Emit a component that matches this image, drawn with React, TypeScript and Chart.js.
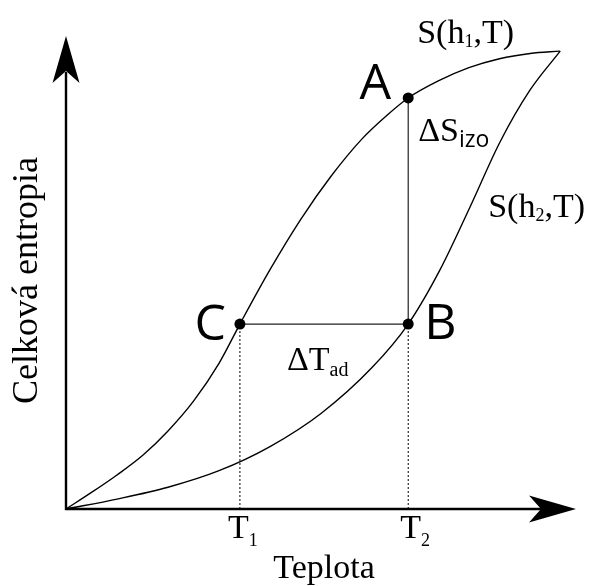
import { useEffect, useRef } from "react";
import { Chart, registerables } from "chart.js";

Chart.register(...registerables);

// Temperature / entropy in arbitrary units (0..10 on both axes)
const T_H1 = [0, 0.5, 1.0, 1.5, 2.0, 2.5, 3.0, 3.41, 4.0, 4.6, 5.2, 5.8, 6.3, 6.71, 7.3, 7.9, 8.5, 9.1, 9.69];
const S_H1 = [0, 0.35, 0.72, 1.13, 1.65, 2.28, 3.08, 3.91, 5.06, 6.12, 7.04, 7.82, 8.33, 8.69, 9.05, 9.33, 9.52, 9.63, 9.68];

const T_H2 = [0, 1, 2, 3, 4, 5, 6, 6.71, 7.33, 7.92, 8.51, 9.1, 9.69];
const S_H2 = [0, 0.21, 0.46, 0.81, 1.32, 2.02, 2.99, 3.91, 5.05, 6.38, 7.76, 8.86, 9.68];

// Cycle states
const T1 = 3.41;
const T2 = 6.71;
const S_A = 8.69;
const S_BC = 3.91;

const POINT_NAMES = ["A", "B", "C"];
const POINT_T = [T2, T2, T1];
const POINT_S = [S_A, S_BC, S_BC];

const X_MAX = 10;
const Y_MAX = 10;

const SERIF = '"Liberation Serif", "Times New Roman", serif';
const SANS = '"Open Sans", "DejaVu Sans", sans-serif';

const toXY = (xs: number[], ys: number[]) => xs.map((x, i) => ({ x, y: ys[i] }));

function drawSub(
  ctx: CanvasRenderingContext2D,
  x: number,
  y: number,
  main: string,
  sub: string,
  rest: string,
  mainFont: string,
  subFont: string,
  subDy: number
) {
  ctx.textAlign = "left";
  ctx.textBaseline = "alphabetic";
  ctx.font = mainFont;
  ctx.fillText(main, x, y);
  let cx = x + ctx.measureText(main).width;
  ctx.font = subFont;
  ctx.fillText(sub, cx, y + subDy);
  cx += ctx.measureText(sub).width;
  if (rest) {
    ctx.font = mainFont;
    ctx.fillText(rest, cx, y);
  }
}

const diagramPlugin = {
  id: "diagramDecor",
  afterDatasetsDraw(chart: any) {
    const { ctx, chartArea, scales } = chart;
    const xs = scales.x;
    const ys = scales.y;
    const x0 = xs.getPixelForValue(0);
    const y0 = ys.getPixelForValue(0);
    const xTip = xs.getPixelForValue(X_MAX);
    const yTip = ys.getPixelForValue(Y_MAX);

    ctx.save();
    ctx.fillStyle = "#000";
    ctx.strokeStyle = "#000";

    // axes
    ctx.lineWidth = 2.4;
    ctx.lineCap = "butt";
    ctx.beginPath();
    ctx.moveTo(x0, y0 + 1.2);
    ctx.lineTo(x0, yTip + 36);
    ctx.moveTo(x0 - 1.2, y0);
    ctx.lineTo(xTip - 34, y0);
    ctx.stroke();

    // arrow heads
    const len = 47;
    const notch = 35;
    const half = 13.5;
    ctx.beginPath();
    ctx.moveTo(x0, yTip);
    ctx.lineTo(x0 + half, yTip + len);
    ctx.lineTo(x0, yTip + notch);
    ctx.lineTo(x0 - half, yTip + len);
    ctx.closePath();
    ctx.fill();
    ctx.beginPath();
    ctx.moveTo(xTip, y0);
    ctx.lineTo(xTip - len, y0 - half);
    ctx.lineTo(xTip - notch, y0);
    ctx.lineTo(xTip - len, y0 + half);
    ctx.closePath();
    ctx.fill();

    const xA = xs.getPixelForValue(T2);
    const yA = ys.getPixelForValue(S_A);
    const xC = xs.getPixelForValue(T1);
    const yC = ys.getPixelForValue(S_BC);

    // point names
    ctx.font = `50px ${SANS}`;
    ctx.textBaseline = "alphabetic";
    ctx.textAlign = "right";
    ctx.fillText(POINT_NAMES[0], xA - 17, yA + 1);
    ctx.fillText(POINT_NAMES[2], xC - 14, yC + 16);
    ctx.textAlign = "left";
    ctx.fillText(POINT_NAMES[1], xA + 16, yC + 15);

    const serif = `34px ${SERIF}`;

    // ΔS_izo and ΔT_ad
    drawSub(ctx, xA + 10, yA + 43, "ΔS", "izo", "", serif, `23px ${SANS}`, 6);
    drawSub(ctx, xC + 47, yC + 46, "ΔT", "ad", "", serif, `20px ${SERIF}`, 6);

    // curve names
    drawSub(ctx, xA + 9, chartArea.top + 7, "S(h", "1", ",T)", serif, `18px ${SERIF}`, 4);
    drawSub(ctx, xA + 80, ys.getPixelForValue(6.17), "S(h", "2", ",T)", serif, `18px ${SERIF}`, 4);

    // temperature marks
    drawSub(ctx, xC - 12, y0 + 29, "T", "1", "", serif, `18px ${SERIF}`, 8);
    drawSub(ctx, xA - 8, y0 + 29, "T", "2", "", serif, `18px ${SERIF}`, 8);

    // axis titles
    ctx.font = serif;
    ctx.textAlign = "center";
    ctx.fillText("Teplota", (xC + xA) / 2, y0 + 69);

    ctx.save();
    ctx.translate(x0 - 29, (y0 + yTip) / 2 + 8);
    ctx.rotate(-Math.PI / 2);
    ctx.font = `36px ${SERIF}`;
    ctx.textAlign = "center";
    ctx.fillText("Celková entropia", 0, 0);
    ctx.restore();

    ctx.restore();
  },
};

export default function App() {
  const canvasRef = useRef<HTMLCanvasElement | null>(null);

  useEffect(() => {
    const canvas = canvasRef.current;
    if (!canvas) return;

    const chart = new Chart(canvas, {
      type: "line",
      data: {
        datasets: [
          {
            type: "scatter",
            data: toXY(POINT_T, POINT_S),
            pointRadius: 5.5,
            pointBackgroundColor: "#000",
            pointBorderColor: "#000",
            pointBorderWidth: 0,
            showLine: false,
            clip: false,
          } as any,
          {
            data: toXY(T_H1, S_H1),
            borderColor: "#000",
            borderWidth: 1.4,
            pointRadius: 0,
            cubicInterpolationMode: "monotone",
            fill: false,
          },
          {
            data: toXY(T_H2, S_H2),
            borderColor: "#000",
            borderWidth: 1.4,
            pointRadius: 0,
            cubicInterpolationMode: "monotone",
            fill: false,
          },
          {
            data: [
              { x: T1, y: S_BC },
              { x: T2, y: S_BC },
              { x: T2, y: S_A },
            ],
            borderColor: "#222",
            borderWidth: 1.2,
            pointRadius: 0,
            tension: 0,
            fill: false,
          },
          {
            data: [
              { x: T1, y: 0 },
              { x: T1, y: S_BC },
            ],
            borderColor: "#000",
            borderWidth: 1,
            borderDash: [2, 2],
            pointRadius: 0,
            fill: false,
          },
          {
            data: [
              { x: T2, y: 0 },
              { x: T2, y: S_BC },
            ],
            borderColor: "#000",
            borderWidth: 1,
            borderDash: [2, 2],
            pointRadius: 0,
            fill: false,
          },
        ],
      },
      options: {
        responsive: false,
        maintainAspectRatio: false,
        animation: false,
        layout: { padding: { left: 66, right: 17, top: 36, bottom: 77 } },
        scales: {
          x: { type: "linear", min: 0, max: X_MAX, display: false },
          y: { type: "linear", min: 0, max: Y_MAX, display: false },
        },
        plugins: {
          legend: { display: false },
          tooltip: { enabled: false },
        },
        events: [],
      },
      plugins: [diagramPlugin],
    });

    return () => chart.destroy();
  }, []);

  return (
    <div style={{ position: "absolute", left: 0, top: 0, width: 593, height: 586, background: "#fff" }}>
      <canvas ref={canvasRef} width={593} height={586} style={{ display: "block" }} />
    </div>
  );
}
